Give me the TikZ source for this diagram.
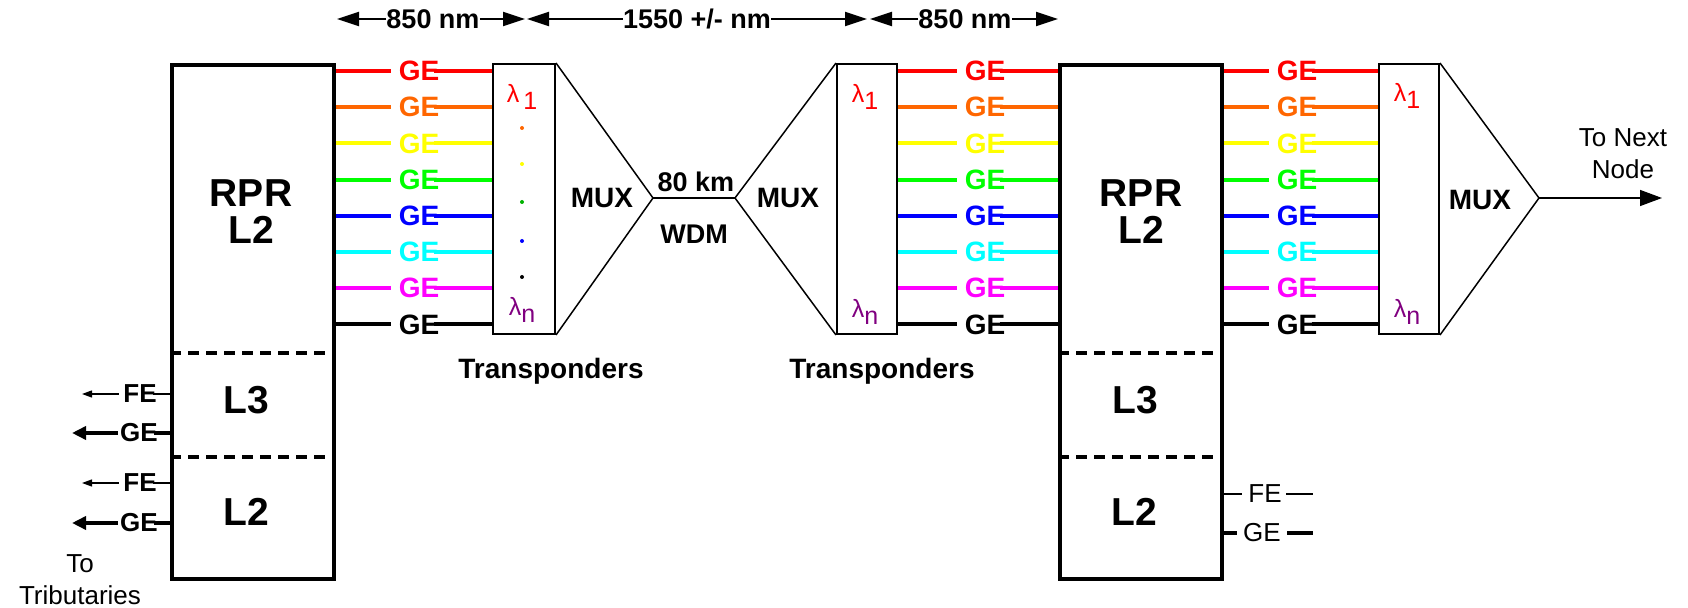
\documentclass[tikz,border=0pt]{standalone}
\usepackage{fontspec}
\setmainfont{Liberation Sans}
\usetikzlibrary{arrows.meta,positioning,calc}
\definecolor{geRed}{HTML}{FF0000}
\definecolor{geOrange}{HTML}{FF6600}
\definecolor{geYellow}{HTML}{FFFF00}
\definecolor{geGreen}{HTML}{00FF00}
\definecolor{geBlue}{HTML}{0000FF}
\definecolor{geCyan}{HTML}{00FFFF}
\definecolor{geMagenta}{HTML}{FF00FF}
\definecolor{lamPurple}{HTML}{800080}
\tikzset{
  layerbox/.style={draw,line width=2pt,inner sep=0pt,minimum width=81pt,minimum height=257pt,anchor=north west},
  tpbox/.style={draw,line width=1pt,inner sep=0pt,minimum height=135pt,anchor=north west},
  muxline/.style={line width=.75pt,line join=miter},
  layerdash/.style={line width=2pt,dash pattern=on 5.5pt off 3.5pt},
  geline/.style={line width=2pt},
  gelabel/.style={inner sep=0pt,font=\bfseries\fontsize{14}{14}\selectfont},
  lamlabel/.style={inner sep=0pt,font=\fontsize{12.5}{13}\selectfont},
  boldlabel/.style={inner sep=0pt,font=\bfseries\fontsize{13.5}{14}\selectfont},
  layertext/.style={inner sep=0pt,align=center,font=\bfseries\fontsize{19.5}{18.5}\selectfont},
  plainlabel/.style={inner sep=0pt,align=center,font=\fontsize{13}{16}\selectfont},
  tribbold/.style={inner sep=0pt,anchor=east,font=\bfseries\fontsize{13}{13}\selectfont},
  spanarrow/.style={-{Triangle[length=11pt,width=7pt]},line width=1pt},
  fearrow/.style={-{Triangle[length=5pt,width=3.5pt]},line width=.6pt},
  gearrow/.style={-{Triangle[length=7pt,width=6.5pt]},line width=2pt},
  outarrow/.style={-{Triangle[length=11pt,width=8pt]},line width=.7pt},
}

\begin{document}
\begin{tikzpicture}[x=0.5pt,y=-0.5pt]
  \useasboundingbox (0,0) rectangle (1688,608);

  % wavelength spans on top
  \coordinate (w0) at (337,19);
  \coordinate (w1a) at (525,19);
  \coordinate (w1b) at (527,19);
  \coordinate (w2a) at (867,19);
  \coordinate (w2b) at (870,19);
  \coordinate (w3) at (1058,19);
  \node[boldlabel] (span1) at (433,19) {850 nm};
  \node[boldlabel] (span2) at (697,19) {1550 +/- nm};
  \node[boldlabel] (span3) at (965,19) {850 nm};
  \draw[spanarrow] (span1.west) -- (w0);
  \draw[spanarrow] (span1.east) -- (w1a);
  \draw[spanarrow] (span2.west) -- (w1b);
  \draw[spanarrow] (span2.east) -- (w2a);
  \draw[spanarrow] (span3.west) -- (w2b);
  \draw[spanarrow] (span3.east) -- (w3);

  % RPR nodes
  \node[layerbox] (rprA) at (170,63) {};
  \node[layerbox] (rprB) at (1058,63) {};
  \foreach \r in {rprA,rprB}{
    \draw[layerdash] (\r.west |- 0,353) -- (\r.east |- 0,353);
    \draw[layerdash] (\r.west |- 0,457) -- (\r.east |- 0,457);
  }
  \node[layertext] (rprAtop) at (251,212) {RPR\\L2};
  \node[layertext] (rprAl3) at (246,400) {L3};
  \node[layertext] (rprAl2) at (246,512) {L2};
  \node[layertext] (rprBtop) at (1141,212) {RPR\\L2};
  \node[layertext] (rprBl3) at (1135,400) {L3};
  \node[layertext] (rprBl2) at (1134,512) {L2};

  % transponders and muxes
  \node[tpbox,minimum width=31pt] (tpA) at (492,63) {};
  \node[tpbox,minimum width=30pt] (tpB) at (836,63) {};
  \node[tpbox,minimum width=30pt] (tpC) at (1378,63) {};
  \coordinate (muxA) at (653,198);
  \coordinate (muxB) at (735,198);
  \coordinate (muxC) at (1539,198);
  \draw[muxline] (tpA.north east) -- (muxA) -- (tpA.south east);
  \draw[muxline] (tpB.north west) -- (muxB) -- (tpB.south west);
  \draw[muxline] (tpC.north east) -- (muxC) -- (tpC.south east);
  \draw[muxline] (muxA) -- (muxB);
  \node[boldlabel,font=\bfseries\fontsize{14}{14}\selectfont] (muxAlab) at (602,198) {MUX};
  \node[boldlabel,font=\bfseries\fontsize{14}{14}\selectfont] (muxBlab) at (788,198) {MUX};
  \node[boldlabel,font=\bfseries\fontsize{14}{14}\selectfont] (muxClab) at (1480,200) {MUX};
  \node[boldlabel] (km) at (696,182) {80 km};
  \node[boldlabel] (wdm) at (694,234) {WDM};
  \node[boldlabel,font=\bfseries\fontsize{14}{14}\selectfont] (tpAlab) at (551,371) {Transponders};
  \node[boldlabel,font=\bfseries\fontsize{14}{14}\selectfont] (tpBlab) at (882,371) {Transponders};

  \node[lamlabel,text=geRed] (lamA1) at (522,97) {λ\kern2pt\raisebox{-.5ex}{1}};
  \node[lamlabel,text=lamPurple] (lamAn) at (522,310) {λ\raisebox{-.5ex}{n}};
  \node[lamlabel,text=geRed] (lamB1) at (865,97) {λ\raisebox{-.5ex}{1}};
  \node[lamlabel,text=lamPurple] (lamBn) at (865,312) {λ\raisebox{-.5ex}{n}};
  \node[lamlabel,text=geRed] (lamC1) at (1407,96) {λ\raisebox{-.5ex}{1}};
  \node[lamlabel,text=lamPurple] (lamCn) at (1407,312) {λ\raisebox{-.5ex}{n}};
  \fill[geOrange] (522,128) circle (1pt);
  \fill[geYellow] (522,164) circle (1pt);
  \fill[geGreen!70!black] (522,202) circle (1pt);
  \fill[geBlue] (522,241) circle (1pt);
  \fill[black] (522,277) circle (1pt);

  % GE channels
  \foreach \c [count=\i] in {geRed,geOrange,geYellow,geGreen,geBlue,geCyan,geMagenta,black}{
    \pgfmathsetmacro{\yy}{71+36.2*(\i-1)}
    \node[gelabel,text=\c] (gA\i) at (419,\yy) {GE};
    \node[gelabel,text=\c] (gB\i) at (985,\yy) {GE};
    \node[gelabel,text=\c] (gC\i) at (1297,\yy) {GE};
    \draw[geline,draw=\c] (rprA.east |- gA\i) -- ([xshift=-3.5pt]gA\i.west);
    \draw[geline,draw=\c] ([xshift=-3pt]gA\i.east) -- (tpA.west |- gA\i);
    \draw[geline,draw=\c] (tpB.east |- gB\i) -- ([xshift=-3.5pt]gB\i.west);
    \draw[geline,draw=\c] ([xshift=-3pt]gB\i.east) -- (rprB.west |- gB\i);
    \draw[geline,draw=\c] (rprB.east |- gC\i) -- ([xshift=-3.5pt]gC\i.west);
    \draw[geline,draw=\c] ([xshift=-3pt]gC\i.east) -- (tpC.west |- gC\i);
  }

  % output
  \coordinate (nextend) at (1662,198);
  \draw[outarrow] (muxC) -- (nextend);
  \node[plainlabel] (next) at (1623,154) {To Next\\Node};

  % tributaries on the left
  \node[tribbold] (feA1) at (157,394) {FE};
  \node[tribbold] (geA1) at (158,433) {GE};
  \node[tribbold] (feA2) at (157,483) {FE};
  \node[tribbold] (geA2) at (158,523) {GE};
  \coordinate (feA1end) at (82,394);
  \coordinate (geA1end) at (72,433);
  \coordinate (feA2end) at (82,483);
  \coordinate (geA2end) at (72,523);
  \draw[line width=.6pt] (rprA.west |- feA1) -- ([xshift=-2pt]feA1.east);
  \draw[fearrow] ([xshift=-2pt]feA1.west) -- (feA1end);
  \draw[line width=2pt] (rprA.west |- geA1) -- ([xshift=-2pt]geA1.east);
  \draw[gearrow] ([xshift=-1pt]geA1.west) -- (geA1end);
  \draw[line width=.6pt] (rprA.west |- feA2) -- ([xshift=-2pt]feA2.east);
  \draw[fearrow] ([xshift=-2pt]feA2.west) -- (feA2end);
  \draw[line width=2pt] (rprA.west |- geA2) -- ([xshift=-2pt]geA2.east);
  \draw[gearrow] ([xshift=-1pt]geA2.west) -- (geA2end);
  \node[plainlabel] (trib) at (80,580) {To\\Tributaries};

  % tributaries on the right
  \node[plainlabel] (feB) at (1265,494) {FE};
  \node[plainlabel] (geB) at (1262,533) {GE};
  \coordinate (feBend) at (1313,494);
  \coordinate (geBend) at (1313,533);
  \draw[line width=.6pt] (rprB.east |- feB) -- ([xshift=-3pt]feB.west);
  \draw[line width=.6pt] ([xshift=2pt]feB.east) -- (feBend);
  \draw[line width=2pt] (rprB.east |- geB) -- ([xshift=-3pt]geB.west);
  \draw[line width=2pt] ([xshift=3pt]geB.east) -- (geBend);
\end{tikzpicture}
\end{document}
